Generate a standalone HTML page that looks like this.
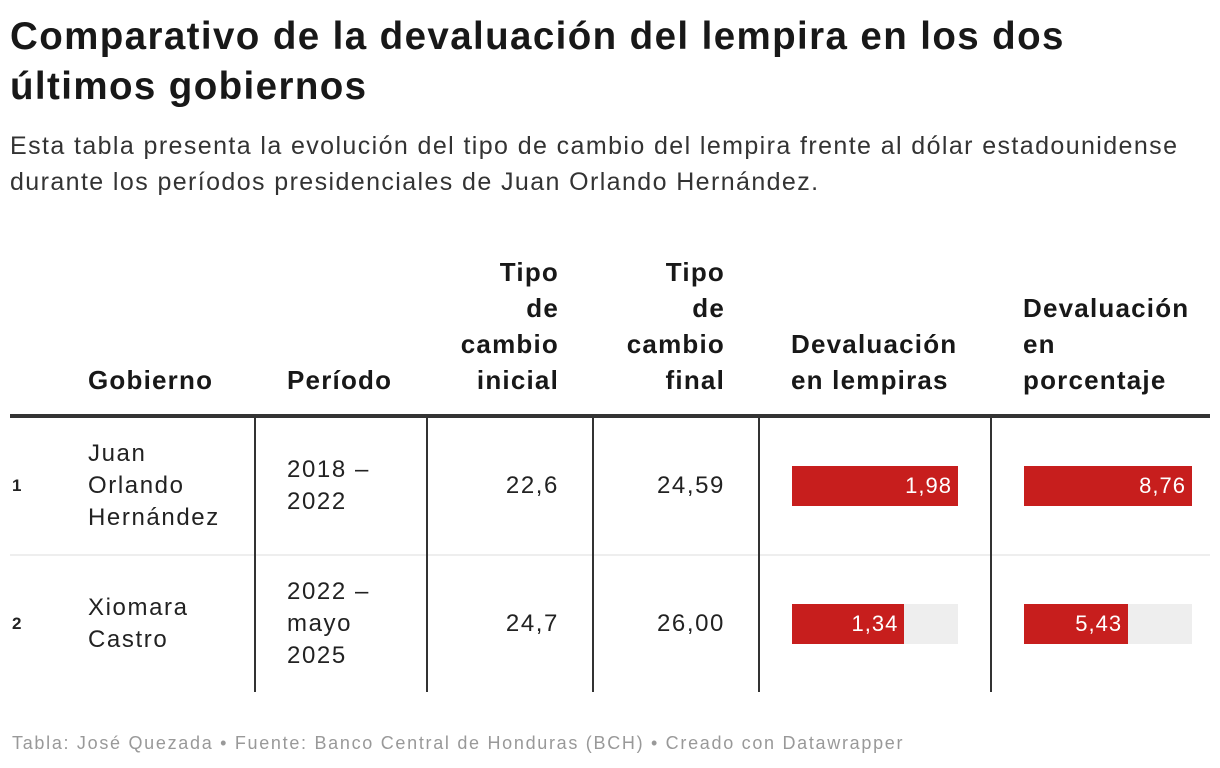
<!DOCTYPE html>
<html><head><meta charset="utf-8">
<style>
body{margin:0;width:1220px;height:768px;background:#fff;font-family:"Liberation Sans",sans-serif;color:#181818;position:relative;overflow:hidden}
.a{position:absolute}
h1{position:absolute;left:10px;top:12px;margin:0;font-size:38.5px;line-height:50px;font-weight:bold;letter-spacing:1.4px;width:1120px}
.sub{left:10px;top:128px;font-size:25px;line-height:36px;color:#333;letter-spacing:1.4px;white-space:nowrap}
.hd{font-size:26px;line-height:36px;font-weight:bold;color:#181818;letter-spacing:1.2px}
.r{text-align:right}
.cell{font-size:24px;line-height:32px;color:#222;letter-spacing:1.6px}
.vl{position:absolute;top:418px;height:274px;width:2px;background:#333}
.bg{position:absolute;height:40px;background:#eee}
.bar{position:absolute;left:0;top:0;height:40px;background:#c71e1d;color:#fff;font-size:22px;line-height:40px;text-align:right;box-sizing:border-box;padding-right:6px;letter-spacing:1px}
.foot{left:12px;top:733px;font-size:18px;color:#999;letter-spacing:1.7px;white-space:nowrap}
</style></head><body>
<h1>Comparativo de la devaluación del lempira en los dos<br>últimos gobiernos</h1>
<div class="a sub">Esta tabla presenta la evolución del tipo de cambio del lempira frente al dólar estadounidense<br>durante los períodos presidenciales de Juan Orlando Hernández.</div>

<div class="a hd" style="left:88px;top:362px">Gobierno</div>
<div class="a hd" style="left:287px;top:362px">Período</div>
<div class="a hd r" style="right:661px;top:254px">Tipo<br>de<br>cambio<br>inicial</div>
<div class="a hd r" style="right:495px;top:254px">Tipo<br>de<br>cambio<br>final</div>
<div class="a hd" style="left:791px;top:326px">Devaluación<br>en lempiras</div>
<div class="a hd" style="left:1023px;top:290px">Devaluación<br>en<br>porcentaje</div>

<div class="a" style="left:10px;top:414px;width:1200px;height:4px;background:#333"></div>
<div class="a" style="left:10px;top:554px;width:1200px;height:2px;background:#eee"></div>
<div class="vl" style="left:254px"></div>
<div class="vl" style="left:426px"></div>
<div class="vl" style="left:592px"></div>
<div class="vl" style="left:758px"></div>
<div class="vl" style="left:990px"></div>

<div id="rows"></div>

<div class="a foot">Tabla: José Quezada • Fuente: Banco Central de Honduras (BCH) • Creado con Datawrapper</div>

<script>
const names=[["Juan","Orlando","Hernández"],["Xiomara","Castro"]];
const periods=[["2018 –","2022"],["2022 –","mayo","2025"]];
const initial=["22,6","24,7"];
const finals=["24,59","26,00"];
const devL=[1.98,1.34];
const devP=[8.76,5.43];
const rowTop=[418,556], rowH=[136,136];
const root=document.getElementById('rows');
function fmt(v){return v.toFixed(2).replace('.',',');}
function add(html,style,name){const d=document.createElement('div');d.className='a cell';d.style.cssText=style;d.innerHTML=html;


root.appendChild(d);return d;}
const maxL=Math.max(...devL), maxP=Math.max(...devP);
for(let i=0;i<names.length;i++){
  const mid=rowTop[i]+rowH[i]/2;
  add(String(i+1),`left:12px;top:${mid-11}px;font-size:17px;line-height:22px;font-weight:bold;letter-spacing:0`,'row-number');
  add(names[i].join('<br>'),`left:88px;top:${mid-names[i].length*16}px`,'gobierno-cell');
  add(periods[i].join('<br>'),`left:287px;top:${mid-periods[i].length*16}px`,'periodo-cell');
  add(initial[i],`right:661px;top:${mid-16}px;text-align:right`,'tipo-inicial-cell');
  add(finals[i],`right:495px;top:${mid-16}px;text-align:right`,'tipo-final-cell');
  [[devL,maxL,792,166,'bar-lempiras'],[devP,maxP,1024,168,'bar-porcentaje']].forEach(([arr,mx,x,w,nm])=>{
    const bg=document.createElement('div');bg.className='bg';
    bg.style.cssText=`left:${x}px;top:${mid-20}px;width:${w}px`;
    
    
    const b=document.createElement('div');b.className='bar';
    b.style.width=(arr[i]/mx*w)+'px';b.textContent=fmt(arr[i]);
    
    
    bg.appendChild(b);root.appendChild(bg);
  });
}
</script>
</body></html>
